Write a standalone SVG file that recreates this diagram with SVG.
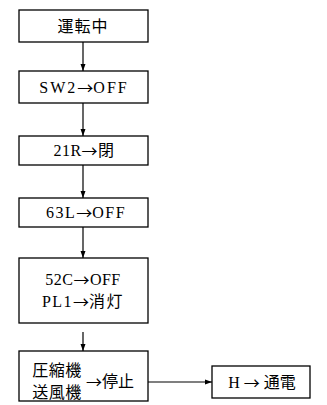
<svg xmlns="http://www.w3.org/2000/svg" width="327" height="405" viewBox="0 0 327 405">
<style>
.box{fill:#fff;stroke:#000;stroke-width:1.3}
.t{font-family:"Liberation Serif","Noto Sans CJK JP",serif;font-size:16px;fill:#000;text-anchor:middle;dominant-baseline:central}
.a{font-family:"Noto Sans CJK JP",sans-serif}
.c{stroke:#000;stroke-width:1.2;fill:none}
</style>
<defs>
<marker id="ah" markerWidth="8" markerHeight="8" refX="7" refY="4" orient="auto" markerUnits="userSpaceOnUse">
<path d="M0,1.5 L7,4 L0,6.5 Z" fill="#000"/>
</marker>
</defs>
<rect width="327" height="405" fill="#fff"/>
<g id="connectors">
<line class="c" x1="83" y1="42" x2="83" y2="71" marker-end="url(#ah)"/>
<line class="c" x1="83" y1="103" x2="83" y2="136" marker-end="url(#ah)"/>
<line class="c" x1="83" y1="165" x2="83" y2="198" marker-end="url(#ah)"/>
<line class="c" x1="83" y1="227" x2="83" y2="258" marker-end="url(#ah)"/>
<line class="c" x1="83" y1="332" x2="83" y2="351" marker-end="url(#ah)"/>
<line class="c" x1="148" y1="382" x2="212" y2="382" marker-end="url(#ah)"/>
</g>
<g id="n1"><rect class="box" x="19" y="10" width="129" height="32"/><text class="t" x="83" y="26" letter-spacing="1">運転中</text></g>
<g id="n2"><rect class="box" x="19" y="71" width="129" height="32"/><text class="t" x="84" y="87" letter-spacing="2">SW2<tspan class="a" letter-spacing="0">→</tspan>OFF</text></g>
<g id="n3"><rect class="box" x="19" y="136" width="129" height="29"/><text class="t" x="84" y="150" letter-spacing="0.5">21R<tspan class="a">→</tspan>閉</text></g>
<g id="n4"><rect class="box" x="19" y="198" width="129" height="29"/><text class="t" x="86" y="212" letter-spacing="1.5">63L<tspan class="a" letter-spacing="0">→</tspan>OFF</text></g>
<g id="n5"><rect class="box" x="19" y="258" width="129" height="65"/><text class="t" x="83" y="279" letter-spacing="0.5">52C<tspan class="a">→</tspan>OFF</text><text class="t" x="83" y="301" letter-spacing="1.5">PL1<tspan class="a" letter-spacing="0">→</tspan>消灯</text></g>
<g id="n6"><rect class="box" x="19" y="351" width="129" height="50"/><text class="t" x="57" y="370" font-size="17" letter-spacing="0.5">圧縮機</text><text class="t" x="57" y="392" font-size="17" letter-spacing="0.5">送風機</text><text class="t" x="110" y="381" font-size="17"><tspan class="a">→</tspan>停止</text></g>
<g id="n7"><rect class="box" x="212" y="366" width="98" height="32"/><text class="t" x="262" y="382">H <tspan class="a">→</tspan> 通電</text></g>
</svg>
